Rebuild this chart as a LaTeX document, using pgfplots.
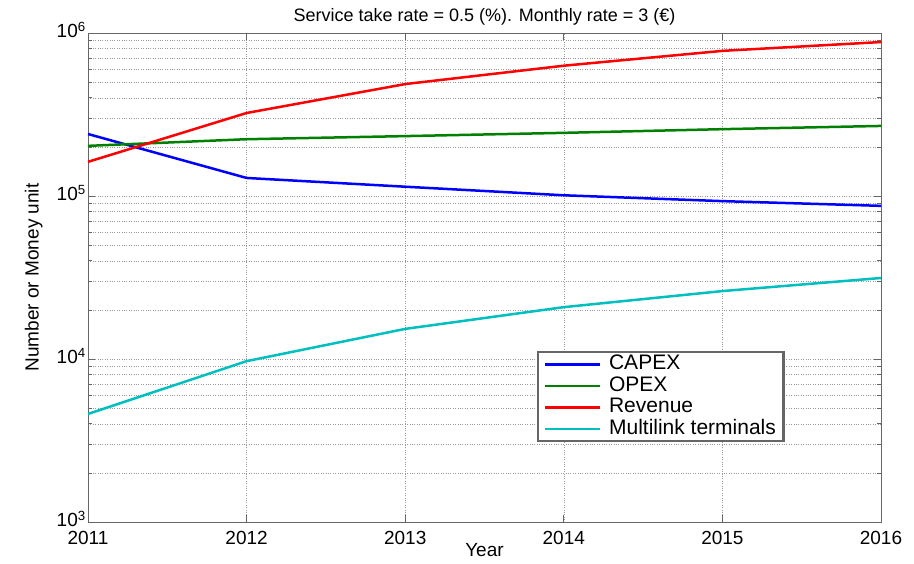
\documentclass[border=0pt]{standalone}
\usepackage{pgfplots}
\pgfplotsset{compat=1.18}
\usepackage{fontspec}
\setmainfont{Liberation Sans}
\definecolor{mblue}{rgb}{0,0,1}
\definecolor{mgreen}{rgb}{0,0.5,0}
\definecolor{mred}{rgb}{1,0,0}
\definecolor{mcyan}{rgb}{0,0.75,0.75}
\newcommand{\tl}{\fontsize{19}{22}\selectfont}
\begin{document}
\begin{tikzpicture}
\path[use as bounding box] (-88pt,-42pt) rectangle (826pt,522pt);
\begin{semilogyaxis}[
  scale only axis, width=793pt, height=489pt,
  xmin=2011, xmax=2016, ymin=1e3, ymax=1e6,
  xtick={2011,2012,2013,2014,2015,2016},
  xticklabels={2011,2012,2013,2014,2015,2016},
  ytick={1e3,1e4,1e5,1e6},
  yticklabels={10\textsuperscript{3},10\textsuperscript{4},10\textsuperscript{5},10\textsuperscript{6}},
  minor ytick={2000,3000,4000,5000,6000,7000,8000,9000,20000,30000,40000,50000,60000,70000,80000,90000,200000,300000,400000,500000,600000,700000,800000,900000},
  xmajorgrids, ymajorgrids, yminorgrids,
  major grid style={dotted, black!40, line width=0.6pt},
  minor grid style={dotted, black!40, line width=0.6pt},
  tick align=inside, major tick length=7pt, minor tick length=4pt,
  axis line style={black!60, line width=0.8pt},
  every tick/.style={black!60, line width=0.8pt},
  tick label style={font=\tl},
  yticklabel style={inner sep=1pt, text depth=0pt, yshift=3pt},
  xticklabel style={inner sep=1pt, text height=13.5pt, yshift=-7pt},
  title={Service take rate = 0.5 (\%). Monthly rate = 3 (€)},
  title style={font=\fontsize{18}{20}\selectfont, at={(rel axis cs:0.5,1)}, anchor=south, yshift=-1pt, inner sep=2pt},
  xlabel={Year}, xlabel style={font=\tl, inner sep=0pt, yshift=4pt},
  ylabel={Number or Money unit}, ylabel style={font=\tl, inner sep=0pt, yshift=12pt},
  legend cell align=left,
  legend image code/.code={\draw[#1] (0pt,0pt) -- (55pt,0pt);},
  legend style={at={(rel axis cs:0.566,0.35)}, anchor=north west,
    draw=black!60, fill=white, font=\fontsize{21}{24}\selectfont, inner xsep=6pt, inner ysep=1.5pt,
    nodes={inner sep=1.5pt, text height=14.5pt, text depth=4pt},
    /tikz/every odd column/.append style={column sep=6pt}},
  line width=2.5pt,
]
\addplot[mblue, line width=2.5pt] coordinates {(2011,240000) (2012,129000) (2013,114000) (2014,101000) (2015,93000) (2016,87000)};
\addlegendentry{CAPEX}
\addplot[mgreen, line width=2.5pt] coordinates {(2011,203000) (2012,223000) (2013,233000) (2014,244000) (2015,257000) (2016,269000)};
\addlegendentry{OPEX}
\addplot[mred, line width=2.5pt] coordinates {(2011,162000) (2012,323000) (2013,486000) (2014,630000) (2015,777000) (2016,880000)};
\addlegendentry{Revenue}
\addplot[mcyan, line width=2.5pt] coordinates {(2011,4600) (2012,9700) (2013,15300) (2014,20800) (2015,26100) (2016,31400)};
\addlegendentry{Multilink terminals}
\end{semilogyaxis}
\end{tikzpicture}
\end{document}
